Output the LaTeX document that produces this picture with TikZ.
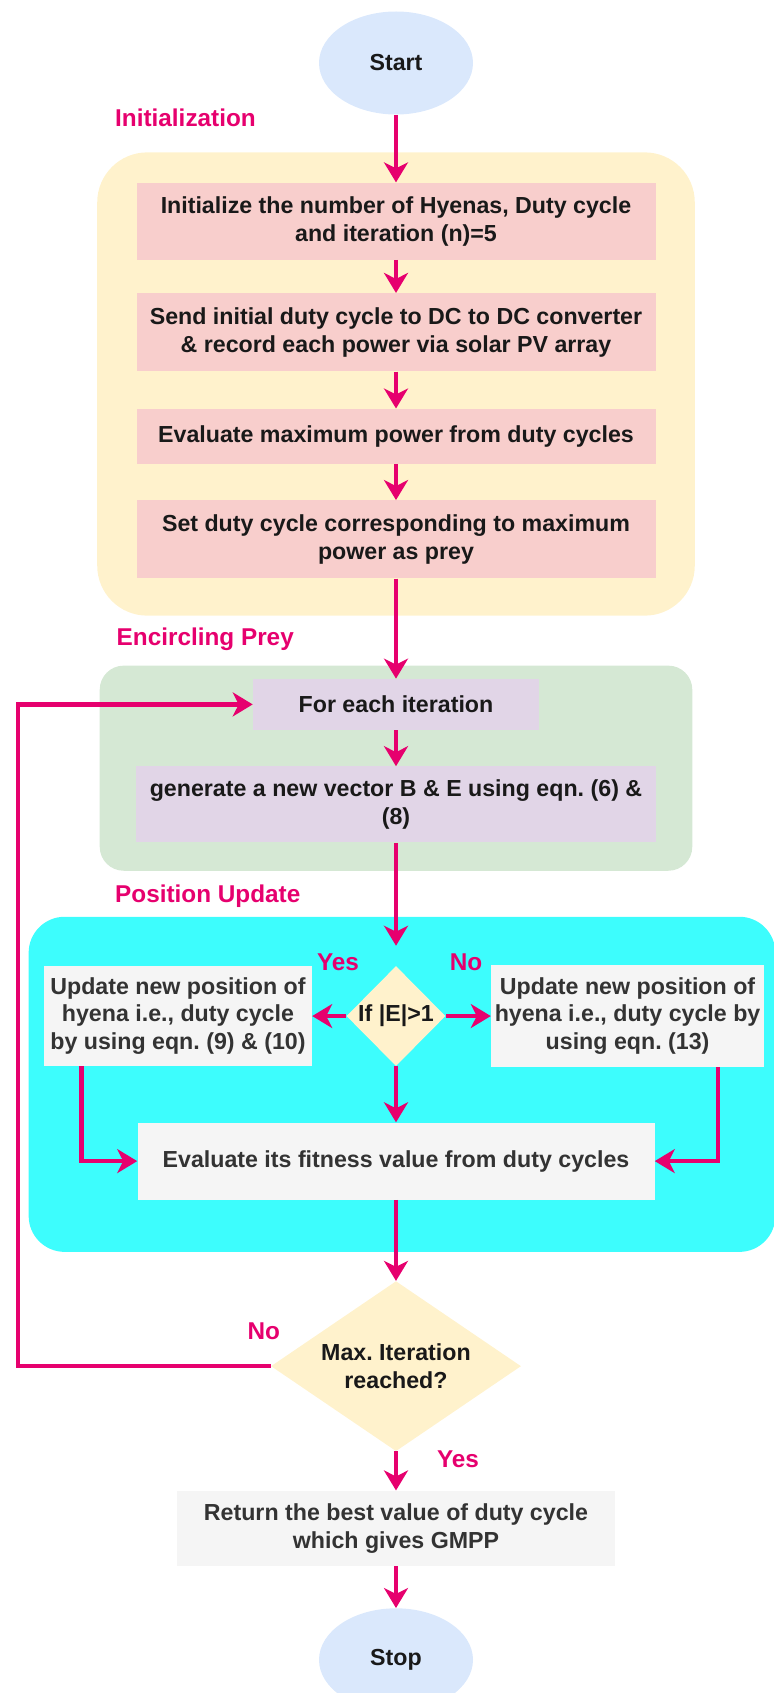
\documentclass[tikz,border=0pt]{standalone}
\usepackage{fontspec}
\setmainfont{Liberation Sans}
\frenchspacing
\usetikzlibrary{arrows.meta,positioning,shapes.geometric,fit,calc,backgrounds}
\definecolor{termfill}{HTML}{DAE8FC}
\definecolor{initfill}{HTML}{FFF2CC}
\definecolor{redfill}{HTML}{F8CECC}
\definecolor{greenfill}{HTML}{D5E8D4}
\definecolor{violetfill}{HTML}{E1D5E7}
\definecolor{cyanfill}{HTML}{3DFDFD}
\definecolor{grayfill}{HTML}{F5F5F5}
\definecolor{decfill}{HTML}{FFF2CC}
\definecolor{arrowpink}{HTML}{E6006E}
\definecolor{graytext}{HTML}{333333}
\tikzstyle{txt} = [font=\bfseries\fontsize{16.5}{19.9}\selectfont, align=center, inner sep=0pt, text=black!90]
\tikzstyle{terminal} = [ellipse, fill=termfill, txt, minimum width=3.85cm, minimum height=2.575cm]
\tikzstyle{redbox} = [rectangle, fill=redfill, txt, minimum width=12.975cm, minimum height=1.925cm]
\tikzstyle{violetbox} = [rectangle, fill=violetfill, txt, minimum width=13cm, minimum height=1.9cm]
\tikzstyle{graybox} = [rectangle, fill=grayfill, txt, text=graytext, minimum width=6.7cm, minimum height=2.5cm]
\tikzstyle{decision} = [diamond, fill=decfill, txt, minimum width=2.475cm, minimum height=2.5cm]
\tikzstyle{group} = [rectangle, inner sep=0pt]
\tikzstyle{lbl} = [font=\bfseries\fontsize{17.3}{20}\selectfont, text=arrowpink, inner sep=0pt]
\tikzstyle{arr} = [-{Stealth[length=5mm, width=6mm, inset=1.5mm]}, line width=3.2pt, draw=arrowpink]

\begin{document}
\begin{tikzpicture}[node distance=0.9cm]
\useasboundingbox (0,0) rectangle (19.35,-42.325);
\node[terminal] (start) at (9.9,-1.575) {Start};
\node[redbox, below=1.69cm of start] (init1) {Initialize the number of Hyenas, Duty cycle\\and iteration (n)=5};
\node[redbox, below=0.825cm of init1, minimum height=1.95cm] (init2) {Send initial duty cycle to DC to DC converter\\\& record each power via solar PV array};
\node[redbox, below=0.925cm of init2, minimum height=1.375cm] (init3) {Evaluate maximum power from duty cycles};
\node[redbox, below=of init3, minimum height=1.95cm] (init4) {Set duty cycle corresponding to maximum\\power as prey};
\node[violetbox, below=2.5cm of init4, minimum width=7.15cm, minimum height=1.275cm] (iter) {For each iteration};
\node[violetbox, below=of iter] (gen) {generate a new vector B \& E using eqn. (6) \&\\(8)};
\node[decision, below=3.075cm of gen] (ifE) {If |E|>1};
\node[graybox, left=0.85cm of ifE] (upyes) {Update new position of\\hyena i.e., duty cycle\\by using eqn. (9) \& (10)};
\node[graybox, right=1.125cm of ifE, minimum width=6.825cm, minimum height=2.55cm] (upno) {Update new position of\\hyena i.e., duty cycle by\\using eqn. (13)};
\node[graybox, below=1.4cm of ifE, minimum width=12.925cm, minimum height=1.925cm] (fitness) {Evaluate its fitness value from duty cycles};
\node[decision, aspect=1.47, below=2.025cm of fitness, minimum width=6.25cm, minimum height=4.25cm] (maxit) {Max. Iteration\\reached?};
\node[graybox, below=0.975cm of maxit, minimum width=10.95cm, minimum height=1.875cm] (best) {Return the best value of duty cycle\\which gives GMPP};
\node[terminal, below=1.05cm of best] (stop) {Stop};

% stage backgrounds
\coordinate (initNW) at ($(init1.north west)+(-0.975,0.75)$);
\coordinate (initSE) at ($(init4.south east)+(0.975,-0.925)$);
\coordinate (encNW) at ($(gen.west |- iter.north)+(-0.9,0.325)$);
\coordinate (encSE) at ($(gen.south east)+(0.9,-0.7)$);
\coordinate (posNW) at ($(upyes.west |- ifE.north)+(-0.375,1.225)$);
\coordinate (posSE) at ($(upno.east |- fitness.south)+(0.275,-1.3)$);
\begin{scope}[on background layer]
\node[group, fill=initfill, rounded corners=1.25cm, fit=(initNW) (initSE)] (initgrp) {};
\node[group, fill=greenfill, rounded corners=0.6cm, fit=(encNW) (encSE)] (encgrp) {};
\node[group, fill=cyanfill, rounded corners=0.9cm, fit=(posNW) (posSE)] (posgrp) {};
\end{scope}

\node[lbl, anchor=west] (initlbl) at ($(initgrp.north west)+(0.45,0.85)$) {Initialization};
\node[lbl, anchor=west] (enclbl) at ($(encgrp.north west)+(0.425,0.65)$) {Encircling Prey};
\node[lbl, anchor=west] (poslbl) at ($(posgrp.north -| initlbl.west)+(0,0.5)$) {Position Update};
\node[lbl] (yes1) at ($(ifE.north)+(-1.45,0.1)$) {Yes};
\node[lbl] (no1) at ($(ifE.north)+(1.75,0.1)$) {No};
\node[lbl] (no2) at ($(maxit.west)+(-0.175,0.875)$) {No};
\node[lbl] (yes2) at ($(maxit.south)+(1.55,-0.2)$) {Yes};

\draw[arr] (start) -- (init1);
\draw[arr] (init1) -- (init2);
\draw[arr] (init2) -- (init3);
\draw[arr] (init3) -- (init4);
\draw[arr] (init4) -- (iter);
\draw[arr] (iter) -- (gen);
\draw[arr, shorten >=0.5cm] (gen) -- (ifE);
\draw[arr] (ifE) -- (upyes);
\draw[arr] (ifE) -- (upno);
\draw[arr] (ifE) -- (fitness);
\draw[arr] ([xshift=0.94cm]upyes.south west) |- (fitness);
\draw[arr] ([xshift=-1.16cm]upno.south east) |- (fitness);
\draw[arr] (fitness) -- (maxit);
\draw[arr] (maxit) -- (best);
\draw[arr] (best) -- (stop);
\coordinate (loopx) at (0.45,0);
\draw[arr] (maxit.west) -- (maxit.west -| loopx) |- (iter);
\end{tikzpicture}
\end{document}
